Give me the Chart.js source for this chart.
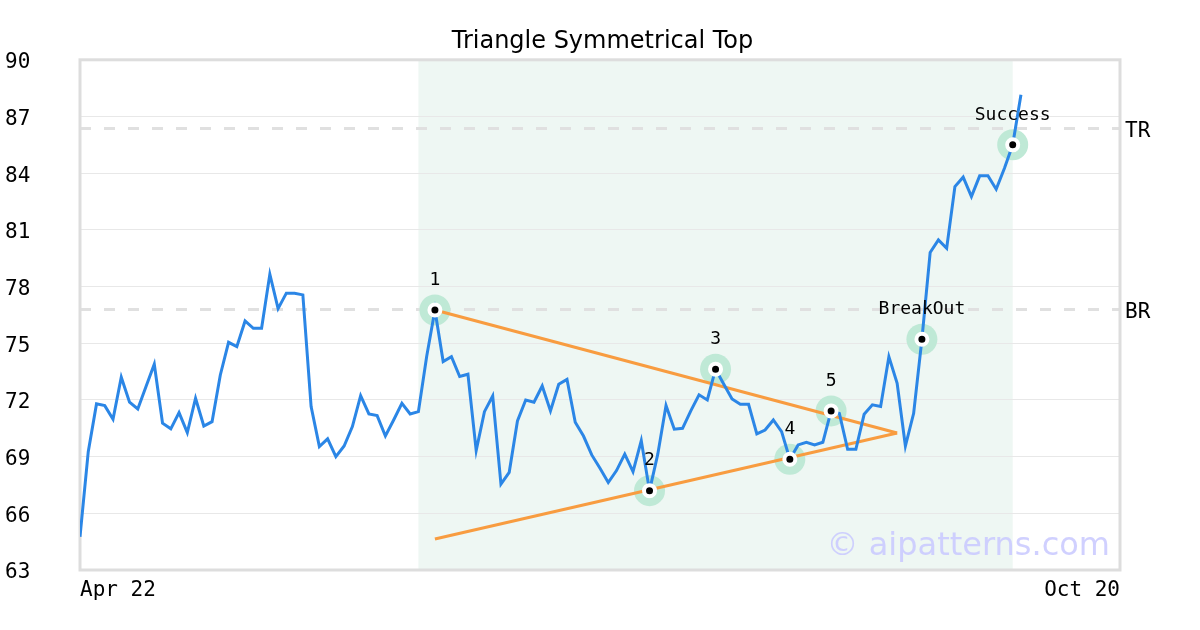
<!DOCTYPE html>
<html>
<head>
<meta charset="utf-8">
<title>Triangle Symmetrical Top</title>
<script src="https://cdn.jsdelivr.net/npm/chart.js@4"></script>
<style>
body{margin:0;background:#fff;}
canvas{display:block;}
</style>
</head>
<body>
<canvas id="chart" width="1200" height="630"></canvas>
<script>
// price series, one value per trading day (index 0 = Apr 22)
const prices=[64.76,69.26,71.79,71.70,70.98,73.20,71.88,71.52,72.71,73.89,
70.77,70.47,71.33,70.27,72.09,70.62,70.85,73.32,75.05,74.82,
76.18,75.79,75.79,78.65,76.83,77.65,77.65,77.56,71.65,69.53,
69.94,69.00,69.56,70.59,72.23,71.26,71.17,70.09,70.94,71.82,
71.26,71.38,74.30,76.76,74.03,74.29,73.24,73.36,69.32,71.38,
72.21,67.55,68.17,70.89,72.00,71.88,72.74,71.42,72.83,73.09,
70.82,70.09,69.09,68.38,67.63,68.26,69.13,68.21,69.85,67.20,
69.13,71.70,70.45,70.50,71.42,72.27,72.00,73.63,72.83,72.05,
71.77,71.77,70.20,70.41,70.94,70.32,68.86,69.62,69.76,69.62,
69.76,71.42,71.29,69.39,69.39,71.24,71.74,71.65,74.29,72.88,
69.56,71.29,75.21,79.80,80.47,80.03,83.29,83.79,82.76,83.86,
83.86,83.15,84.26,85.50,88.15];

// pattern points (index into prices) and their labels
const pivotIdx=[43,69,77,86,91,102,113];
const pivotLabels=["1","2","3","4","5","BreakOut","Success"];

// triangle trend lines: [startIdx, startVal, endIdx, endVal]
const upperLine=[43,76.76,99,70.25];
const lowerLine=[43,64.64,99,70.25];

// pattern zone (shaded)
const zone=[41,113];

// target / breakout levels
const levelVals=[86.35,76.76];
const levelLabels=["TR","BR"];

// x axis
const xTickPos=[0,126];
const xTickLabels=["Apr 22","Oct 20"];

const yMin=63,yMax=90,yStep=3;

const mono="'DejaVu Sans Mono', monospace";
const sans="'DejaVu Sans', sans-serif";

const linePts=prices.map((v,i)=>({x:i,y:v}));
const pivotPts=pivotIdx.map(i=>({x:i,y:prices[i]}));

const decor={
  id:"decor",
  beforeDraw(c){
    const ctx=c.ctx,a=c.chartArea,x=c.scales.x;
    ctx.save();
    ctx.fillStyle="#eef7f3";
    const x0=x.getPixelForValue(zone[0]),x1=x.getPixelForValue(zone[1]);
    ctx.fillRect(x0,a.top,x1-x0,a.bottom-a.top);
    ctx.restore();
  },
  beforeDatasetsDraw(c){
    const ctx=c.ctx,a=c.chartArea;
    ctx.save();
    ctx.strokeStyle="#dddddd";
    ctx.lineWidth=3;
    ctx.strokeRect(a.left,a.top,a.right-a.left,a.bottom-a.top);
    ctx.font="32px "+sans;
    ctx.fillStyle="rgba(200,200,255,0.85)";
    ctx.textAlign="right";
    ctx.textBaseline="alphabetic";
    ctx.fillText("\u00a9 aipatterns.com",a.right-10,a.bottom-15);
    ctx.restore();
  },
  afterDatasetsDraw(c){
    const ctx=c.ctx;
    const meta=c.getDatasetMeta(0);
    ctx.save();
    ctx.font="18px "+mono;
    ctx.fillStyle="#000";
    ctx.textAlign="center";
    ctx.textBaseline="middle";
    meta.data.forEach((p,i)=>{
      ctx.fillText(pivotLabels[i],p.x,p.y-30);
    });
    ctx.restore();
  }
};

new Chart(document.getElementById("chart"),{
  type:"line",
  data:{
    datasets:[
      {data:pivotPts,showLine:false,pointRadius:5.5,pointBackgroundColor:"#000",pointBorderColor:"#fff",pointBorderWidth:4,order:0},
      {data:linePts,borderColor:"#2b86e6",borderWidth:3,pointRadius:0,tension:0,order:1},
      {data:[{x:upperLine[0],y:upperLine[1]},{x:upperLine[2],y:upperLine[3]}],borderColor:"#f89c40",borderWidth:3,pointRadius:0,order:2},
      {data:[{x:lowerLine[0],y:lowerLine[1]},{x:lowerLine[2],y:lowerLine[3]}],borderColor:"#f89c40",borderWidth:3,pointRadius:0,order:2},
      {data:pivotPts,showLine:false,pointRadius:15.5,pointBackgroundColor:"#bfe9d6",pointBorderWidth:0,order:3}
    ]
  },
  options:{
    responsive:false,
    animation:false,
    devicePixelRatio:1,
    layout:{padding:{left:5,right:0,top:0,bottom:0}},
    plugins:{
      legend:{display:false},
      tooltip:{enabled:false},
      title:{display:true,text:"Triangle Symmetrical Top",color:"#000",
        font:{family:sans,size:24,weight:"normal"},padding:{top:27,bottom:4}}
    },
    scales:{
      x:{
        type:"linear",min:xTickPos[0],max:xTickPos[1],
        grid:{display:false},
        border:{display:false},
        afterBuildTicks(s){s.ticks=xTickPos.map(v=>({value:v}));},
        afterFit(s){s.height=60;},
        ticks:{align:"inner",maxRotation:0,padding:0,color:"#000",
          font:{family:mono,size:21},
          callback:(v,i)=>xTickLabels[i]}
      },
      y:{
        position:"left",min:yMin,max:yMax,
        grid:{color:"#e8e8e8",lineWidth:1,drawTicks:false},
        border:{display:false},
        afterFit(s){s.width=75;},
        ticks:{stepSize:yStep,crossAlign:"far",labelOffset:3,color:"#000",
          font:{family:mono,size:21}}
      },
      yr:{
        position:"right",min:yMin,max:yMax,
        grid:{color:"#e0e0e0",lineWidth:3,drawTicks:false},
        border:{display:false,dash:[11,13]},
        afterBuildTicks(s){s.ticks=levelVals.map(v=>({value:v}));},
        afterFit(s){s.width=80;},
        ticks:{padding:5,labelOffset:3,color:"#000",font:{family:mono,size:21},
          callback:(v,i)=>levelLabels[i]}
      }
    }
  },
  plugins:[decor]
});
</script>
</body>
</html>
